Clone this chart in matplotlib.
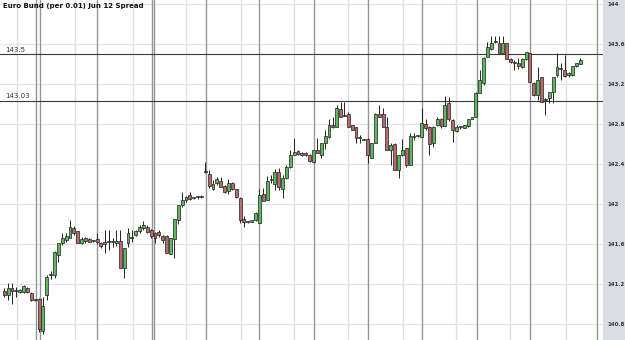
import matplotlib
matplotlib.use("Agg")
import matplotlib.pyplot as plt
from matplotlib.patches import Rectangle

# OHLC candles, one per bar
opens = [141.13, 141.09, 141.16, 141.13, 141.12, 141.12, 141.16, 141.11, 141.04, 141.05,
         140.73, 141.09, 141.29, 141.29, 141.49, 141.61, 141.64, 141.66, 141.76, 141.73,
         141.61, 141.63, 141.65, 141.63, 141.65, 141.61,
         141.60, 141.62, 141.62, 141.61, 141.63, 141.36, 141.61, 141.66, 141.69, 141.73,
         141.76, 141.77, 141.74, 141.71, 141.72, 141.68, 141.68, 141.50, 141.65, 141.84,
         141.99, 142.04, 142.09, 142.06, 142.07, 142.07,
         142.33, 142.30, 142.15, 142.21, 142.23, 142.18, 142.13, 142.21, 142.15, 142.06,
         141.85, 141.82, 141.82, 141.84, 141.81, 142.10, 142.04, 142.24, 142.20, 142.32,
         142.15, 142.26, 142.37, 142.49, 142.53, 142.51,
         142.51, 142.49, 142.42, 142.54, 142.49, 142.61, 142.67, 142.79, 142.77, 142.95,
         142.88, 142.90, 142.79, 142.77, 142.66, 142.64, 142.65, 142.46, 142.61, 142.90,
         142.90, 142.77, 142.54, 142.60, 142.34, 142.49,
         142.56, 142.39, 142.67, 142.68, 142.67, 142.80, 142.77, 142.61, 142.79, 142.85,
         142.78, 143.01, 142.84, 142.73, 142.77, 142.76, 142.78, 142.85, 142.87, 143.11,
         143.21, 143.47, 143.55, 143.62, 143.61, 143.51, 143.61, 143.45, 143.41, 143.41,
         143.37, 143.45, 143.51, 143.21, 143.09, 143.27, 143.04, 143.06, 143.12, 143.29,
         143.35, 143.34, 143.29, 143.29, 143.38, 143.40]
highs = [141.16, 141.21, 141.21, 141.17, 141.15, 141.19, 141.17, 141.12, 141.05, 141.06,
         141.07, 141.29, 141.33, 141.53, 141.61, 141.71, 141.71, 141.84, 141.78, 141.73,
         141.67, 141.67, 141.66, 141.64, 141.71, 141.62,
         141.74, 141.74, 141.66, 141.74, 141.74, 141.56, 141.76, 141.74, 141.74, 141.79,
         141.83, 141.79, 141.75, 141.72, 141.74, 141.69, 141.69, 141.66, 141.85, 141.99,
         142.12, 142.08, 142.12, 142.07, 142.08, 142.09,
         142.42, 142.34, 142.24, 142.27, 142.27, 142.19, 142.25, 142.22, 142.15, 142.07,
         141.88, 141.82, 141.84, 141.92, 142.15, 142.16, 142.28, 142.29, 142.35, 142.36,
         142.29, 142.39, 142.54, 142.66, 142.54, 142.52,
         142.52, 142.50, 142.54, 142.66, 142.61, 142.74, 142.85, 142.87, 142.99, 143.02,
         143.02, 142.92, 142.79, 142.77, 142.69, 142.65, 142.66, 142.61, 142.91, 142.99,
         142.96, 142.87, 142.61, 142.61, 142.49, 142.65,
         142.56, 142.71, 142.71, 142.68, 142.96, 142.85, 142.78, 142.78, 142.87, 142.86,
         143.08, 143.07, 142.85, 142.79, 142.78, 142.79, 142.85, 142.87, 143.12, 143.34,
         143.47, 143.62, 143.68, 143.68, 143.68, 143.68, 143.61, 143.46, 143.44, 143.46,
         143.46, 143.52, 143.51, 143.22, 143.37, 143.27, 143.06, 143.12, 143.27, 143.51,
         143.41, 143.49, 143.32, 143.38, 143.41, 143.46]
lows = [141.07, 141.04, 141.00, 141.07, 141.11, 141.11, 141.11, 141.03, 141.03, 140.72,
        140.70, 141.04, 141.25, 141.26, 141.42, 141.59, 141.62, 141.66, 141.69, 141.61,
        141.60, 141.61, 141.62, 141.62, 141.60, 141.56,
        141.51, 141.54, 141.57, 141.58, 141.36, 141.26, 141.57, 141.62, 141.68, 141.71,
        141.74, 141.71, 141.66, 141.61, 141.67, 141.61, 141.51, 141.50, 141.46, 141.80,
        141.97, 142.02, 142.04, 142.05, 142.05, 142.06,
        142.31, 142.16, 142.14, 142.19, 142.17, 142.11, 142.10, 142.14, 142.06, 141.81,
        141.77, 141.81, 141.82, 141.83, 141.81, 142.03, 142.04, 142.21, 142.14, 142.14,
        142.06, 142.25, 142.36, 142.49, 142.49, 142.48,
        142.48, 142.42, 142.41, 142.51, 142.46, 142.55, 142.66, 142.76, 142.77, 142.87,
        142.88, 142.77, 142.74, 142.61, 142.61, 142.64, 142.41, 142.46, 142.61, 142.87,
        142.77, 142.54, 142.39, 142.34, 142.26, 142.48,
        142.37, 142.39, 142.64, 142.67, 142.67, 142.74, 142.49, 142.57, 142.78, 142.76,
        142.78, 142.83, 142.62, 142.72, 142.75, 142.76, 142.77, 142.85, 142.87, 143.11,
        143.19, 143.47, 143.54, 143.61, 143.51, 143.51, 143.45, 143.41, 143.34, 143.35,
        143.36, 143.44, 143.22, 143.08, 143.04, 143.02, 142.89, 143.01, 143.01, 143.27,
        143.24, 143.27, 143.27, 143.28, 143.37, 143.40]
closes = [141.09, 141.16, 141.13, 141.13, 141.14, 141.18, 141.12, 141.04, 141.04, 140.75,
          140.98, 141.27, 141.30, 141.52, 141.61, 141.66, 141.68, 141.77, 141.71, 141.61,
          141.65, 141.66, 141.62, 141.63, 141.62, 141.58,
          141.62, 141.62, 141.63, 141.63, 141.36, 141.56, 141.71, 141.66, 141.73, 141.77,
          141.79, 141.72, 141.68, 141.66, 141.69, 141.64, 141.51, 141.66, 141.85, 141.99,
          142.04, 142.07, 142.05, 142.06, 142.07, 142.07,
          142.32, 142.18, 142.20, 142.25, 142.17, 142.12, 142.21, 142.15, 142.07, 141.84,
          141.82, 141.82, 141.84, 141.91, 142.09, 142.03, 142.23, 142.25, 142.32, 142.17,
          142.26, 142.37, 142.49, 142.52, 142.50, 142.49,
          142.49, 142.43, 142.54, 142.51, 142.61, 142.68, 142.79, 142.77, 142.96, 142.87,
          142.88, 142.77, 142.74, 142.66, 142.66, 142.64, 142.49, 142.61, 142.90, 142.87,
          142.77, 142.54, 142.59, 142.34, 142.49, 142.54,
          142.39, 142.68, 142.67, 142.68, 142.81, 142.76, 142.60, 142.77, 142.85, 142.78,
          142.99, 142.85, 142.74, 142.77, 142.77, 142.79, 142.85, 142.87, 143.11, 143.24,
          143.46, 143.57, 143.61, 143.62, 143.51, 143.61, 143.45, 143.42, 143.41, 143.38,
          143.45, 143.52, 143.22, 143.09, 143.24, 143.02, 143.04, 143.12, 143.27, 143.37,
          143.35, 143.28, 143.31, 143.38, 143.41, 143.44]

price_ticks = [140.8, 141.2, 141.6, 142, 142.4, 142.8, 143.2, 143.6, 144]
tick_labels = ["140.8", "141.2", "141.6", "142", "142.4", "142.8", "143.2", "143.6", "144"]
levels = [143.5, 143.03]
level_labels = ["143.5", "143.03"]

# session separators (in bar units)
dark_lines = [8.2, 9.2, 24, 38.2, 38.7, 52.2, 65.9, 80.2, 94.1, 108.1, 122.3, 136.1, 153.4]
light_lines = [3.3, 18.3, 33.3, 47, 61.3, 75, 88.9, 103.2, 116.9, 130.9, 145.4]

fig = plt.figure(figsize=(6.25, 3.4), dpi=100)
fig.patch.set_facecolor('#d9dde2')
ax = fig.add_axes([0, 0, 603 / 625, 1])
ax.set_facecolor('white')

ax.set_xlim(-1.11, 154.9)
ax.set_ylim(140.64, 144.04)

for y in price_ticks:
    ax.axhline(y, color='#e3e3e3', lw=0.8, zorder=0)
for x in light_lines:
    ax.axvline(x, color='#e0e0e0', lw=1.0, zorder=0)
for x in dark_lines:
    ax.axvline(x, color='#959595', lw=1.0, zorder=0)

for y, lab in zip(levels, level_labels):
    ax.axhline(y, color='#3a3a3a', lw=0.8, zorder=1)
    ax.text(0.3, y + 0.015, lab, fontsize=5, color='#333333', va='bottom', ha='left')

w = 0.75
for i in range(len(opens)):
    o, h, l, c = opens[i], highs[i], lows[i], closes[i]
    ax.vlines(i, l, h, color='#222222', lw=0.7, zorder=2)
    up = c >= o
    face = '#5cb85c' if up else '#b86a6a'
    bottom = min(o, c)
    height = max(abs(c - o), 0.008)
    ax.add_patch(Rectangle((i - w / 2, bottom), w, height, facecolor=face,
                           edgecolor='#1e1e1e', lw=0.5, zorder=3))

ax.yaxis.tick_right()
ax.set_yticks(price_ticks)
ax.set_yticklabels(tick_labels, fontsize=4, fontweight='bold', color='#333333')
ax.tick_params(axis='y', length=0, pad=3)
ax.set_xticks([])
for s in ax.spines.values():
    s.set_visible(False)

ax.text(0.005, 0.99, "Euro Bund (per 0.01) Jun 12 Spread", transform=ax.transAxes,
        fontsize=5, fontweight='bold', va='top', ha='left', color='#111111')

fig.savefig('out.png', dpi=100, facecolor=fig.get_facecolor())
